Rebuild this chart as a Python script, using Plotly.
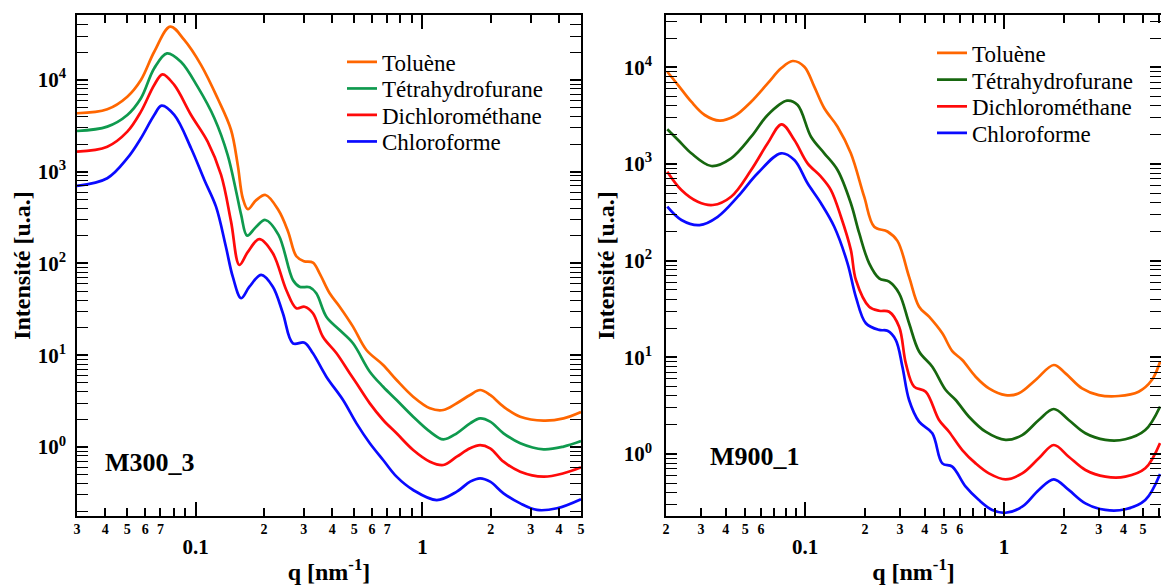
import plotly.graph_objects as go
import math

# ---------------- Data: M300_3 (left panel) ----------------
q_m300_tol = [0.030, 0.0408, 0.050, 0.0574, 0.0657, 0.0773, 0.0891, 0.1056, 0.125, 0.1433, 0.1534, 0.1614, 0.170, 0.185, 0.2033, 0.232, 0.2553, 0.278, 0.300, 0.329, 0.352, 0.390, 0.4315, 0.494, 0.566, 0.671, 0.769, 0.910, 1.079, 1.236, 1.417, 1.622, 1.796, 1.988, 2.277, 2.698, 3.42, 4.19, 5.0]
i_m300_tol = [4340, 4800, 6580, 10000, 20300, 38100, 27300, 14600, 6310, 2850, 1180, 514, 390, 490, 558, 380, 225, 120, 106, 102, 78, 47.3, 33.8, 20.5, 11.4, 7.83, 5.37, 3.53, 2.64, 2.53, 3.0, 3.69, 4.18, 3.69, 2.75, 2.14, 1.94, 2.05, 2.40]

q_m300_thf = [0.030, 0.0408, 0.050, 0.0574, 0.0657, 0.0748, 0.0861, 0.102, 0.121, 0.1385, 0.151, 0.1588, 0.1687, 0.185, 0.2028, 0.232, 0.2685, 0.2872, 0.3184, 0.3405, 0.377, 0.4315, 0.494, 0.586, 0.671, 0.769, 0.910, 1.079, 1.236, 1.417, 1.622, 1.796, 1.988, 2.277, 2.698, 3.42, 4.19, 5.0]
i_m300_thf = [2780, 3100, 4150, 6310, 13400, 19500, 15800, 8450, 3830, 1520, 606, 338, 201, 252, 298, 205, 66.1, 55.8, 55.0, 47.3, 26.3, 18.8, 13.5, 6.62, 4.54, 3.25, 2.14, 1.47, 1.21, 1.41, 1.81, 2.05, 1.89, 1.41, 1.10, 0.944, 1.01, 1.16]

q_m300_dcm = [0.030, 0.0408, 0.050, 0.0574, 0.0657, 0.0715, 0.0805, 0.0955, 0.113, 0.1295, 0.1433, 0.156, 0.170, 0.191, 0.219, 0.251, 0.278, 0.302, 0.329, 0.364, 0.418, 0.478, 0.512, 0.586, 0.671, 0.769, 0.910, 1.079, 1.236, 1.417, 1.622, 1.796, 1.988, 2.277, 2.698, 3.42, 4.19, 5.0]
i_m300_dcm = [1655, 1875, 2735, 4515, 8830, 11530, 8830, 4155, 2128, 922, 286, 96.3, 134, 184, 129, 51.4, 32.5, 33.8, 28.7, 15.9, 10.5, 6.36, 4.95, 2.99, 1.97, 1.41, 0.928, 0.692, 0.637, 0.784, 0.968, 1.05, 0.968, 0.692, 0.538, 0.475, 0.517, 0.60]

q_m300_chl = [0.030, 0.0408, 0.050, 0.0574, 0.0657, 0.0708, 0.0805, 0.0955, 0.1093, 0.123, 0.136, 0.1458, 0.1588, 0.1727, 0.1946, 0.219, 0.2425, 0.2685, 0.302, 0.329, 0.377, 0.4466, 0.512, 0.586, 0.671, 0.769, 0.910, 1.156, 1.417, 1.622, 1.796, 1.988, 2.277, 2.698, 3.20, 3.92, 5.0]
i_m300_chl = [700, 849, 1403, 2317, 4155, 5250, 4155, 1803, 813, 416, 152, 71.8, 41.8, 55.8, 75, 55.8, 28.7, 13.5, 13.7, 10.5, 5.84, 3.25, 1.81, 1.10, 0.722, 0.475, 0.340, 0.264, 0.326, 0.419, 0.456, 0.419, 0.313, 0.243, 0.206, 0.215, 0.27]

# ---------------- Data: M900_1 (right panel) ----------------
q_m900_tol = [0.0203, 0.0230, 0.0268, 0.0313, 0.0372, 0.0442, 0.0536, 0.0649, 0.0758, 0.0867, 0.0992, 0.1113, 0.125, 0.1457, 0.170, 0.1984, 0.2228, 0.2596, 0.2915, 0.3337, 0.3746, 0.4205, 0.4902, 0.550, 0.6177, 0.7211, 0.8408, 1.0197, 1.189, 1.443, 1.782, 2.040, 2.471, 2.998, 3.776, 4.759, 5.549, 6.1]
i_m900_tol = [8980, 6540, 4400, 3205, 2800, 3127, 4400, 6810, 9740, 11590, 10120, 6290, 3760, 2427, 1288, 458, 224, 200, 160, 68, 33.4, 26.3, 17.7, 11.6, 9.38, 6.3, 4.78, 4.07, 4.24, 5.82, 8.33, 6.83, 4.78, 4.07, 3.98, 4.41, 5.82, 9.0]

q_m900_thf = [0.0203, 0.0230, 0.0268, 0.0338, 0.0425, 0.0536, 0.0649, 0.0812, 0.0918, 0.1072, 0.125, 0.1457, 0.170, 0.1873, 0.2102, 0.236, 0.2649, 0.2973, 0.3337, 0.3746, 0.4365, 0.510, 0.5724, 0.6674, 0.809, 1.0197, 1.236, 1.498, 1.782, 2.118, 2.570, 3.238, 4.079, 5.14, 6.1]
i_m900_thf = [2280, 1767, 1288, 951, 1143, 1910, 3205, 4505, 4065, 1910, 1288, 865, 392, 192, 93.8, 65.6, 60.5, 45.9, 22.5, 11.5, 8.0, 4.59, 3.62, 2.43, 1.70, 1.40, 1.57, 2.25, 2.92, 2.25, 1.64, 1.40, 1.42, 1.77, 3.1]

q_m900_dcm = [0.0203, 0.0239, 0.0289, 0.0344, 0.0425, 0.0536, 0.0649, 0.0763, 0.0884, 0.103, 0.1203, 0.135, 0.1516, 0.170, 0.1803, 0.2102, 0.236, 0.2649, 0.2973, 0.3213, 0.3535, 0.4046, 0.4720, 0.5297, 0.6177, 0.7211, 0.8408, 1.0197, 1.236, 1.498, 1.782, 2.118, 2.570, 3.238, 4.079, 5.14, 6.1]
i_m900_dcm = [830, 537, 406, 376, 458, 865, 1633, 2570, 1767, 1014, 738, 537, 284, 129, 63, 33.4, 30.3, 29.6, 20.7, 8.67, 4.97, 4.41, 2.25, 1.70, 1.10, 0.80, 0.631, 0.547, 0.631, 0.903, 1.24, 0.938, 0.684, 0.583, 0.583, 0.711, 1.3]

q_m900_chl = [0.0203, 0.0239, 0.0295, 0.0364, 0.0459, 0.0578, 0.0758, 0.0884, 0.103, 0.1203, 0.1403, 0.1636, 0.1803, 0.2023, 0.236, 0.2598, 0.2862, 0.3088, 0.3337, 0.3746, 0.4365, 0.4902, 0.550, 0.6426, 0.749, 0.8735, 1.0197, 1.236, 1.498, 1.782, 2.118, 2.570, 3.238, 4.079, 5.14, 6.1]
i_m900_chl = [361, 263, 233, 284, 458, 800, 1288, 1097, 630, 392, 224, 93.8, 42, 22.5, 19.2, 18.8, 15.1, 8.0, 3.62, 2.16, 1.64, 0.80, 0.74, 0.459, 0.334, 0.264, 0.247, 0.285, 0.425, 0.547, 0.425, 0.309, 0.264, 0.268, 0.334, 0.62]

solvents = ["Toluène", "Tétrahydrofurane", "Dichlorométhane", "Chloroforme"]
sample_labels = ["M300_3", "M900_1"]

# tick values / labels
y_major = [1, 10, 100, 1000, 10000]
y_major_text = ["10<sup>0</sup>", "10<sup>1</sup>", "10<sup>2</sup>", "10<sup>3</sup>", "10<sup>4</sup>"]
y_minor = [m * 10 ** k for k in range(-1, 5) for m in range(2, 10)]
x_major = [0.1, 1]
x_major_text = ["0.1", "1"]
x_minor_left = [0.03, 0.04, 0.05, 0.06, 0.07, 0.08, 0.09, 0.2, 0.3, 0.4, 0.5, 0.6, 0.7, 0.8, 0.9, 2, 3, 4, 5]
x_digit_left = [0.03, 0.04, 0.05, 0.06, 0.07, 0.2, 0.3, 0.4, 0.5, 0.6, 0.7, 2, 3, 4, 5]
x_digit_left_text = ["3", "4", "5", "6", "7", "2", "3", "4", "5", "6", "7", "2", "3", "4", "5"]
x_minor_right = [0.02, 0.03, 0.04, 0.05, 0.06, 0.07, 0.08, 0.09, 0.2, 0.3, 0.4, 0.5, 0.6, 0.7, 0.8, 0.9, 2, 3, 4, 5, 6]
x_digit_right = [0.02, 0.03, 0.04, 0.05, 0.06, 0.2, 0.3, 0.4, 0.5, 0.6, 2, 3, 4, 5, 6]
x_digit_right_text = ["2", "3", "4", "5", "6", "2", "3", "4", "5", "6", "2", "3", "4", "5", "6"]

colors_left = ["#FF6600", "#0F9A4E", "#FF0A0A", "#0A0AFF"]
colors_right = ["#FF6600", "#17670F", "#FF0A0A", "#0A0AFF"]

W, H = 1161, 586
FONT = "Liberation Serif, Times New Roman, Times, serif"

fig = go.Figure()

left_series = [(q_m300_tol, i_m300_tol), (q_m300_thf, i_m300_thf), (q_m300_dcm, i_m300_dcm), (q_m300_chl, i_m300_chl)]
right_series = [(q_m900_tol, i_m900_tol), (q_m900_thf, i_m900_thf), (q_m900_dcm, i_m900_dcm), (q_m900_chl, i_m900_chl)]

legend_names = ["legend", "legend2", "legend3", "legend4", "legend5", "legend6", "legend7", "legend8"]

for k, ((qq, ii), name, col) in enumerate(zip(left_series, solvents, colors_left)):
    fig.add_trace(go.Scatter(x=qq, y=ii, mode="lines", name=name, showlegend=True,
                             line=dict(color=col, width=2.7, shape="spline", smoothing=1.0),
                             xaxis="x", yaxis="y", legend=legend_names[k]))
for k, ((qq, ii), name, col) in enumerate(zip(right_series, solvents, colors_right)):
    fig.add_trace(go.Scatter(x=qq, y=ii, mode="lines", name=name, showlegend=True,
                             line=dict(color=col, width=2.7, shape="spline", smoothing=1.0),
                             xaxis="x2", yaxis="y2", legend=legend_names[4 + k]))
# empty traces to realise the digit-label axes
fig.add_trace(go.Scatter(x=[], y=[], xaxis="x3", yaxis="y", showlegend=False))
fig.add_trace(go.Scatter(x=[], y=[], xaxis="x4", yaxis="y2", showlegend=False))

ydom = [1 - 516 / H, 1 - 15 / H]
xdom_l = [77 / W, 581 / W]
xdom_r = [666 / W, 1.0]

def xaxis_main(dom, rng, minor_vals, anchor):
    return dict(domain=dom, type="log", range=rng, anchor=anchor, automargin=False,
                tickmode="array", tickvals=x_major, ticktext=x_major_text,
                ticks="inside", ticklen=14, tickwidth=1.5, tickcolor="black",
                showline=True, linecolor="black", linewidth=1.5, mirror="allticks",
                showgrid=False, zeroline=False,
                tickfont=dict(family=FONT, size=21, color="black", weight="bold"),
                ticklabelstandoff=11,
                minor=dict(tickmode="array", tickvals=minor_vals, ticks="inside", ticklen=8,
                           tickwidth=1.5, tickcolor="black", showgrid=False),
                title=dict(text="q [nm<sup>-1</sup>]", font=dict(family=FONT, size=24, color="black", weight="bold"),
                           standoff=5))

def xaxis_digits(over, rng, vals, texts, anchor):
    return dict(overlaying=over, type="log", range=rng, anchor=anchor, side="bottom", automargin=False,
                tickmode="array", tickvals=vals, ticktext=texts, ticks="",
                showline=False, showgrid=False, zeroline=False,
                tickfont=dict(family=FONT, size=14, color="black", weight="bold"),
                ticklabelstandoff=3)

def yaxis_main(rng, anchor, lab_off, tit_off):
    return dict(domain=ydom, type="log", range=rng, anchor=anchor, automargin=False,
                tickmode="array", tickvals=y_major, ticktext=y_major_text,
                ticks="inside", ticklen=11, tickwidth=1.5, tickcolor="black",
                showline=True, linecolor="black", linewidth=1.5, mirror="allticks",
                showgrid=False, zeroline=False,
                tickfont=dict(family=FONT, size=21, color="black", weight="bold"),
                ticklabelstandoff=lab_off,
                minor=dict(tickmode="array", tickvals=y_minor, ticks="inside", ticklen=6,
                           tickwidth=1.2, tickcolor="black", showgrid=False),
                title=dict(text="Intensité [u.a.]", font=dict(family=FONT, size=24, color="black", weight="bold"),
                           standoff=tit_off))

rng_xl = [math.log10(0.03), math.log10(5)]
rng_xr = [math.log10(0.02), 0.79]

# legend placement (one legend per entry so that row spacing matches)
leg_left_y = [62, 88.5, 115, 141.5]
leg_right_y = [53, 79.7, 106.4, 133]
leg_font = dict(family=FONT, size=23, color="black")
legends = {}
for k in range(4):
    legends[legend_names[k]] = dict(x=342 / W, y=1 - leg_left_y[k] / H, xanchor="left", yanchor="middle",
                                    font=leg_font, bgcolor="rgba(0,0,0,0)", visible=True)
    legends[legend_names[4 + k]] = dict(x=932 / W, y=1 - leg_right_y[k] / H, xanchor="left", yanchor="middle",
                                        font=leg_font, bgcolor="rgba(0,0,0,0)", visible=True)

fig.update_layout(
    width=W, height=H,
    margin=dict(l=0, r=0, t=0, b=0),
    paper_bgcolor="white", plot_bgcolor="white",
    showlegend=True,
    xaxis=xaxis_main(xdom_l, rng_xl, x_minor_left, "y"),
    xaxis2=xaxis_main(xdom_r, rng_xr, x_minor_right, "y2"),
    xaxis3=xaxis_digits("x", rng_xl, x_digit_left, x_digit_left_text, "y"),
    xaxis4=xaxis_digits("x2", rng_xr, x_digit_right, x_digit_right_text, "y2"),
    yaxis=yaxis_main([-0.752, 4.708], "x", 5, 0),
    yaxis2=yaxis_main([-0.641, 4.540], "x2", 8, 2),
    annotations=[
        dict(text=sample_labels[0], xref="paper", yref="paper", x=150 / W, y=1 - 462 / H,
             xanchor="center", yanchor="middle", showarrow=False,
             font=dict(family=FONT, size=26, color="black", weight="bold")),
        dict(text=sample_labels[1], xref="paper", yref="paper", x=755 / W, y=1 - 457 / H,
             xanchor="center", yanchor="middle", showarrow=False,
             font=dict(family=FONT, size=26, color="black", weight="bold")),
    ],
    **legends,
)

fig.write_html("out.html", config={"displayModeBar": False},
               post_script="document.body.style.margin='0';document.body.style.padding='0';")
